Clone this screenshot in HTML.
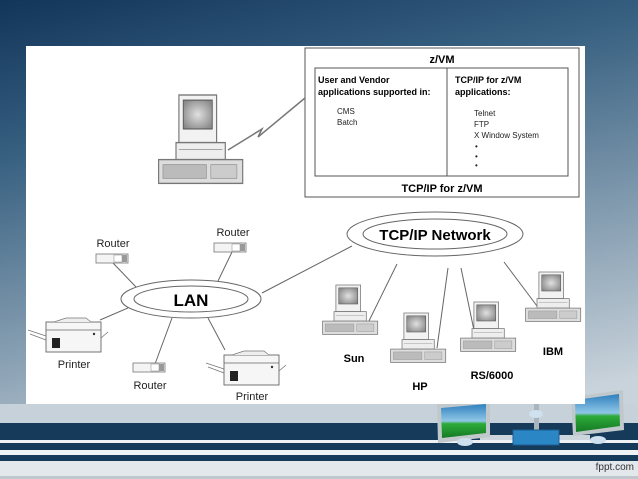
<!DOCTYPE html>
<html><head><style>
html,body{margin:0;padding:0;width:638px;height:479px;overflow:hidden;font-family:"Liberation Sans",Arial,sans-serif}
</style></head><body>
<svg width="638" height="479" viewBox="0 0 638 479" xmlns="http://www.w3.org/2000/svg" font-family="Liberation Sans, Arial, sans-serif">
<defs>
<linearGradient id="bg" x1="0" y1="0" x2="0.3" y2="1">
<stop offset="0" stop-color="#12355a"/><stop offset="0.3" stop-color="#365f80"/><stop offset="1" stop-color="#c9d3db"/>
</linearGradient>
<radialGradient id="scr" cx="0.5" cy="0.5" r="0.6"><stop offset="0" stop-color="#e0e0e0"/><stop offset="1" stop-color="#8a8a8a"/></radialGradient>
<linearGradient id="gm" x1="0" y1="0" x2="0" y2="1"><stop offset="0" stop-color="#2f7fbf"/><stop offset="0.5" stop-color="#8fc7e6"/><stop offset="0.58" stop-color="#2eab3a"/><stop offset="1" stop-color="#147a24"/></linearGradient>
<g id="pc">
<rect x="2" y="0" width="26" height="28" fill="#f2f2f2" stroke="#777" stroke-width="0.8"/>
<rect x="5" y="3" width="20" height="17" fill="url(#scr)" stroke="#555" stroke-width="0.6"/>
<rect x="0" y="28" width="34" height="10" fill="#eee" stroke="#777" stroke-width="0.8"/>
<line x1="2" y1="32" x2="32" y2="32" stroke="#999" stroke-width="0.5"/>
<rect x="-12" y="38" width="58" height="14" fill="#ddd" stroke="#777" stroke-width="0.8"/>
<rect x="-9" y="41" width="30" height="8" fill="#bbb" stroke="#888" stroke-width="0.4"/>
<rect x="24" y="41" width="18" height="8" fill="#ccc" stroke="#888" stroke-width="0.4"/>
</g>
<g id="router">
<rect x="0" y="0" width="32" height="9" fill="#f4f4f4" stroke="#777" stroke-width="0.8"/>
<rect x="18" y="1" width="8" height="7" fill="#fff" stroke="#888" stroke-width="0.5"/>
<rect x="26" y="1" width="5" height="7" fill="#999"/>
</g>
<g id="printer">
<rect x="0" y="4" width="55" height="30" fill="#f6f6f6" stroke="#666" stroke-width="0.9"/>
<line x1="0" y1="12" x2="55" y2="12" stroke="#666" stroke-width="0.8"/>
<path d="M8 4 L20 0 L40 0 L45 4" fill="#eee" stroke="#777" stroke-width="0.7"/>
<path d="M0 18 L-18 12 M0 22 L-16 16" stroke="#777" stroke-width="0.8"/>
<path d="M55 20 L62 14" stroke="#777" stroke-width="0.8"/>
<rect x="6" y="20" width="8" height="10" fill="#222"/>
<circle cx="48" cy="16" r="1.2" fill="#333"/>
</g>
</defs>
<rect width="638" height="479" fill="url(#bg)"/>
<rect x="0" y="404" width="638" height="20" fill="#c7d1d9"/>
<rect x="0" y="423" width="638" height="17" fill="#153a5a"/>
<rect x="0" y="440" width="638" height="3" fill="#eef2f5"/>
<rect x="0" y="443" width="638" height="7" fill="#153a5a"/>
<rect x="0" y="450" width="638" height="5" fill="#eef2f5"/>
<rect x="0" y="455" width="638" height="6" fill="#153a5a"/>
<rect x="0" y="461" width="638" height="18" fill="#e3e8ec"/>
<rect x="0" y="476" width="638" height="3" fill="#c0c8ce"/>
<text x="634" y="470" font-size="10" text-anchor="end" fill="#333">fppt.com</text>
<!-- decoration -->
<g>
<rect x="480" y="435" width="110" height="5" fill="#ccd5dc"/>
<rect x="534" y="400" width="5" height="32" fill="#aab4bc"/>
<rect x="513" y="430" width="46" height="15" fill="#2b86c6" stroke="#1b5e90"/>
<polygon points="437,404 490,400 490,437 438,443" fill="#c0c8cc"/>
<polygon points="441,408 486,404 486,433 442,438" fill="url(#gm)"/>
<polygon points="571,397 623,390 624,430 573,436" fill="#c0c8cc"/>
<polygon points="575,400 619,394 620,426 576,432" fill="url(#gm)"/>
<ellipse cx="465" cy="442" rx="8" ry="4" fill="#cfe0ee"/>
<ellipse cx="598" cy="440" rx="8" ry="4" fill="#cfe0ee"/>
<ellipse cx="536" cy="414" rx="7" ry="4" fill="#cfe0ee"/>
</g>
<!-- white panel -->
<rect x="26" y="46" width="559" height="358" fill="#fff"/>
<!-- z/VM box -->
<rect x="305" y="48" width="274" height="149" fill="#fff" stroke="#555" stroke-width="1"/>
<rect x="315" y="68" width="253" height="108" fill="#fff" stroke="#555" stroke-width="1"/>
<line x1="447" y1="68" x2="447" y2="176" stroke="#555"/>
<text x="442" y="63" font-size="11" font-weight="bold" text-anchor="middle">z/VM</text>
<text x="442" y="192" font-size="11" font-weight="bold" text-anchor="middle">TCP/IP for z/VM</text>
<g font-size="9" font-weight="bold"><text x="318" y="83">User and Vendor</text><text x="318" y="95">applications supported in:</text>
<text x="455" y="83">TCP/IP for z/VM</text><text x="455" y="95">applications:</text></g>
<g font-size="8" fill="#222"><text x="337" y="114">CMS</text><text x="337" y="125">Batch</text>
<text x="474" y="116">Telnet</text><text x="474" y="127">FTP</text><text x="474" y="138">X Window System</text>
<text x="475" y="149">•</text><text x="475" y="159">•</text><text x="475" y="168">•</text></g>
<!-- lightning -->
<polyline points="228,150 262,129 258,137 305,98" fill="none" stroke="#777" stroke-width="1.5"/>
<!-- connector lines -->
<g stroke="#666" stroke-width="1">
<line x1="113" y1="263" x2="136" y2="287"/>
<line x1="232" y1="252" x2="218" y2="281"/>
<line x1="128" y1="308" x2="100" y2="320"/>
<line x1="155" y1="364" x2="172" y2="318"/>
<line x1="208" y1="318" x2="225" y2="350"/>
<line x1="262" y1="293" x2="352" y2="246"/>
<line x1="397" y1="264" x2="367" y2="325"/>
<line x1="448" y1="268" x2="437" y2="348"/>
<line x1="461" y1="268" x2="476" y2="340"/>
<line x1="504" y1="262" x2="540" y2="310"/>
</g>
<!-- ellipses -->
<ellipse cx="191" cy="299" rx="70" ry="19" fill="#fff" stroke="#666"/>
<ellipse cx="191" cy="299" rx="57" ry="13" fill="#fff" stroke="#666"/>
<text x="191" y="306" font-size="17" font-weight="bold" text-anchor="middle">LAN</text>
<ellipse cx="435" cy="234" rx="88" ry="22" fill="#fff" stroke="#666"/>
<ellipse cx="435" cy="234" rx="72" ry="15" fill="#fff" stroke="#666"/>
<text x="435" y="240" font-size="15" font-weight="bold" text-anchor="middle">TCP/IP Network</text>
<!-- computers -->
<use href="#pc" transform="translate(176,95) scale(1.45,1.7)"/>
<use href="#pc" transform="translate(334,285) scale(0.95,0.95)"/>
<use href="#pc" transform="translate(402,313) scale(0.95,0.95)"/>
<use href="#pc" transform="translate(472,302) scale(0.95,0.95)"/>
<use href="#pc" transform="translate(537,272) scale(0.95,0.95)"/>
<g font-size="11" font-weight="bold" text-anchor="middle">
<text x="354" y="362">Sun</text><text x="420" y="390">HP</text><text x="492" y="379">RS/6000</text><text x="553" y="355">IBM</text></g>
<!-- routers & printers -->
<use href="#router" transform="translate(96,254)"/>
<use href="#router" transform="translate(214,243)"/>
<use href="#router" transform="translate(133,363)"/>
<use href="#printer" transform="translate(46,318)"/>
<use href="#printer" transform="translate(224,351)"/>
<g font-size="11" fill="#222" text-anchor="middle">
<text x="113" y="247">Router</text><text x="233" y="236">Router</text><text x="150" y="389">Router</text>
<text x="74" y="368">Printer</text><text x="252" y="400">Printer</text></g>
</svg>
</body></html>
